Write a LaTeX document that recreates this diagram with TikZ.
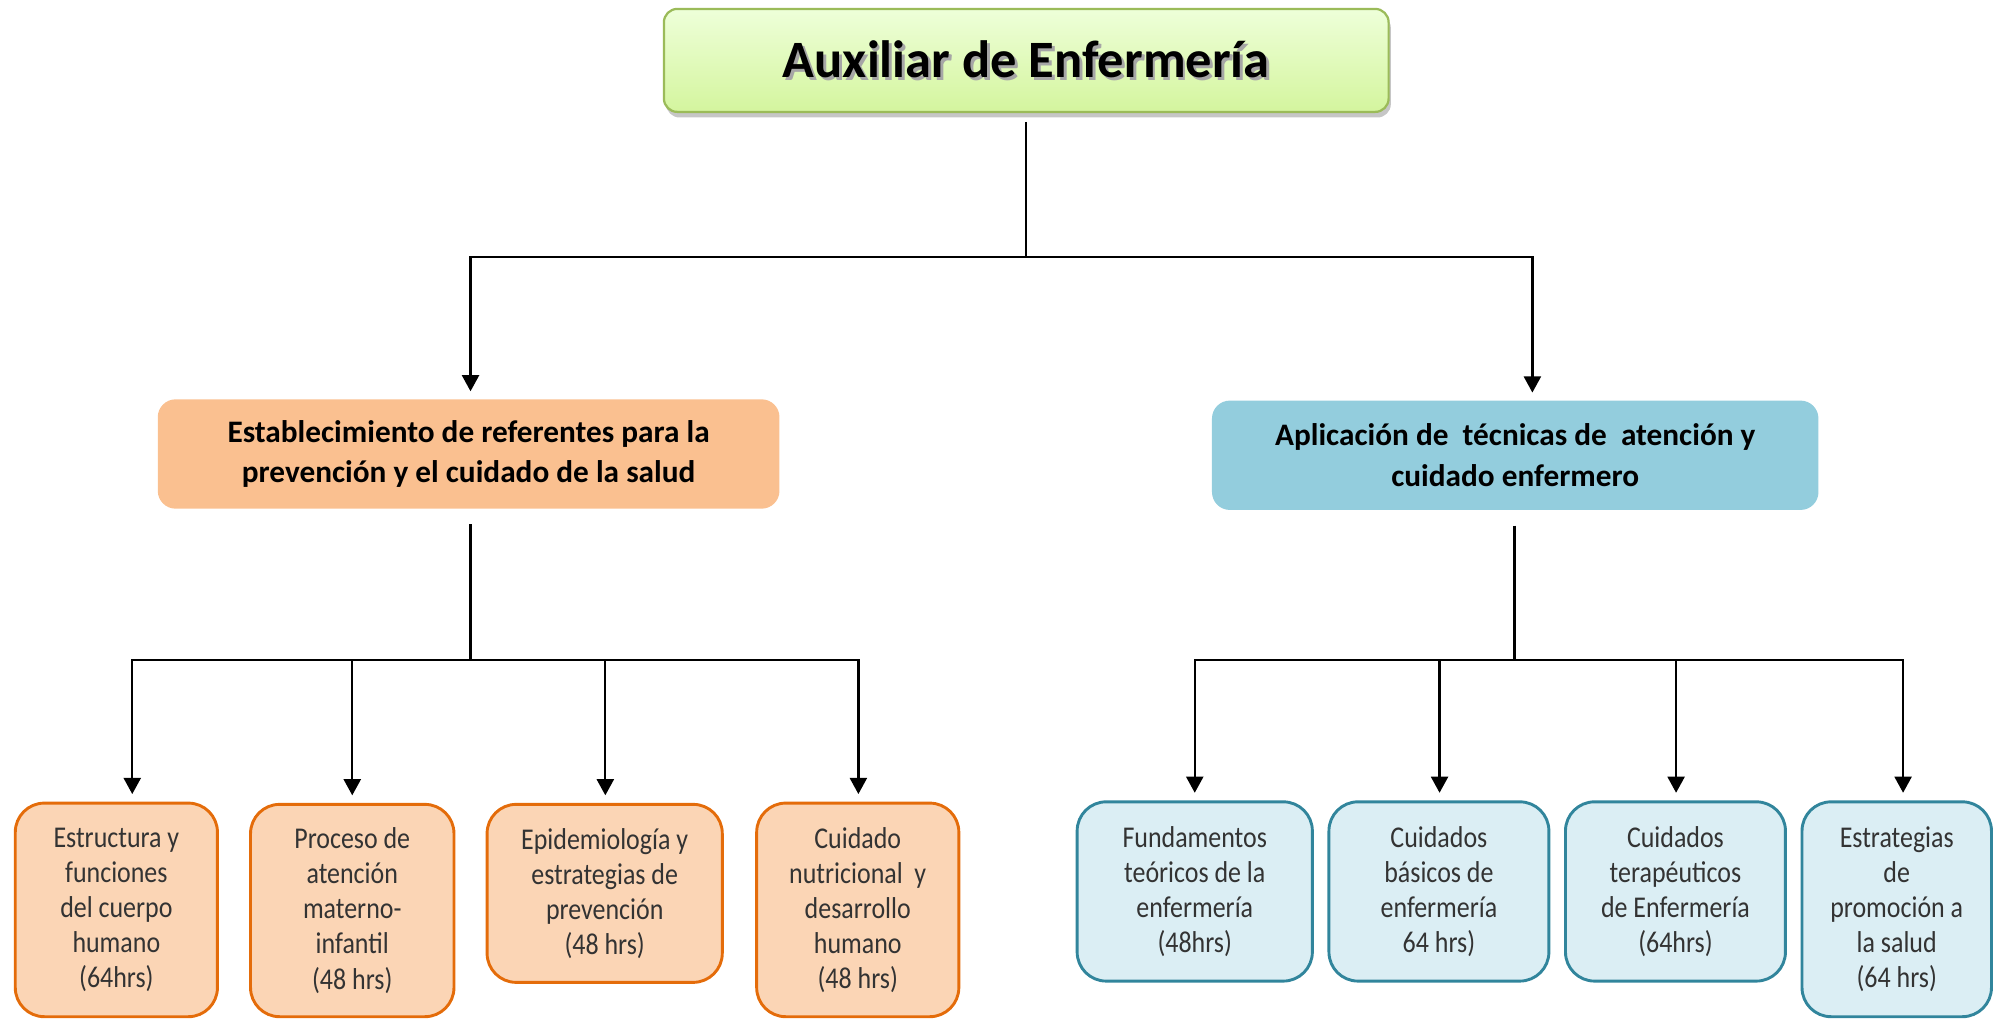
\documentclass[tikz,border=0pt]{standalone}
\usepackage{fontspec}
\setmainfont{Carlito}
\newfontfamily\delgada[FakeStretch=0.86]{Carlito}
\usetikzlibrary{shadows,arrows.meta,calc}
\definecolor{verdeclaro}{HTML}{EEFFD9}
\definecolor{verdemedio}{HTML}{D4F59E}
\definecolor{verdeborde}{HTML}{9BBB59}
\definecolor{naranja}{HTML}{FAC090}
\definecolor{naranjaclaro}{HTML}{FBD5B5}
\definecolor{naranjaborde}{HTML}{E46C0A}
\definecolor{azul}{HTML}{93CDDD}
\definecolor{azulclaro}{HTML}{DBEEF4}
\definecolor{azulborde}{HTML}{31859C}
\newcommand{\sombra}[1]{\makebox[0pt][l]{\hspace{1.3pt}\raisebox{-1.3pt}{\color{black!35}#1}}#1}
\tikzset{
every node/.style=
    {rectangle,
    align=center,
    inner sep=0pt
    },
raiz/.style=
    {rounded corners=6pt,
    draw=verdeborde,
    line width=1pt,
    top color=verdeclaro,
    bottom color=verdemedio,
    drop shadow={shadow xshift=1pt,shadow yshift=-2.5pt,opacity=0.45},
    font=\fontsize{23.5}{28}\selectfont\bfseries,
    minimum width=11.4cm,
    minimum height=1.62cm
    },
rama/.style=
    {rounded corners=8pt,
    font=\fontsize{14}{18.1}\selectfont\bfseries,
    minimum height=1.72cm
    },
hoja/.style=
    {rounded corners=13pt,
    line width=1.3pt,
    text=black!80,
    font=\delgada\fontsize{13.5}{15.7}\selectfont
    },
hojaN/.style={hoja,draw=naranjaborde,fill=naranjaclaro},
hojaA/.style={hoja,draw=azulborde,fill=azulclaro},
linea/.style={line width=1pt},
flecha/.style=
    {linea,
    -{Triangle[width=7.6pt,length=7.2pt]},
    shorten >=3.4pt
    }}

\begin{document}
\begin{tikzpicture}[x=0.02cm,y=-0.02cm]
\useasboundingbox (0,0) rectangle (1568,801);

\node[raiz] (auxiliar) at (807,47.5) {\sombra{Auxiliar de Enfermería}};

\node[rama,fill=naranja,minimum width=9.78cm] (prevencion) at (368.5,357)
    {Establecimiento de referentes para la\\prevención y el cuidado de la salud};
\node[rama,fill=azul,minimum width=9.54cm] (tecnicas) at (1191.5,358)
    {Aplicación de\ \ técnicas de\ \ atención y\\cuidado enfermero};

\node[hojaN,minimum width=3.18cm,minimum height=3.36cm] (estructura) at (91.5,715.5)
    {Estructura y\\funciones\\del cuerpo\\humano\\(64hrs)};
\node[hojaN,minimum width=3.2cm,minimum height=3.34cm] (materno) at (277,716)
    {Proceso de\\atención\\materno-\\infantil\\(48 hrs)};
\node[hojaN,minimum width=3.7cm,minimum height=2.8cm] (epidemio) at (475.5,702.5)
    {Epidemiología y\\estrategias de\\prevención\\(48 hrs)};
\node[hojaN,minimum width=3.18cm,minimum height=3.36cm] (nutricion) at (674.5,715.5)
    {Cuidado\\nutricional\ \ y\\desarrollo\\humano\\(48 hrs)};

\node[hojaA,minimum width=3.7cm,minimum height=2.82cm] (fundamentos) at (939.5,701)
    {Fundamentos\\teóricos de la\\enfermería\\(48hrs)};
\node[hojaA,minimum width=3.46cm,minimum height=2.82cm] (basicos) at (1131.5,701)
    {Cuidados\\básicos de\\enfermería\\64 hrs)};
\node[hojaA,minimum width=3.46cm,minimum height=2.82cm] (terapeuticos) at (1317.5,701)
    {Cuidados\\terapéuticos\\de Enfermería\\(64hrs)};
\node[hojaA,minimum width=2.98cm,minimum height=3.38cm] (promocion) at (1491.5,715)
    {Estrategias\\de\\promoción a\\la salud\\(64 hrs)};

\coordinate (nudo) at (807,202);
\coordinate (nudoN) at (370,519);
\coordinate (nudoA) at (1191,519);

\draw[linea,shorten <=4pt] (auxiliar.south -| nudo) -- (nudo);
\draw[flecha] (nudo) -| ($(prevencion.north)+(1.5,0)$);
\draw[flecha] (nudo) -| ($(tecnicas.north)+(13.5,0)$);

\draw[linea,shorten <=6.8pt] (prevencion.south -| nudoN) -- (nudoN);
\foreach \hijo/\dx in {estructura/12.5,materno/0,epidemio/0.5,nutricion/0.5}
    \draw[flecha] (nudoN) -| ($(\hijo.north)+(\dx,0)$);

\draw[linea,shorten <=6.8pt] (tecnicas.south -| nudoA) -- (nudoA);
\foreach \hijo/\dx in {fundamentos/0,basicos/0.5,terapeuticos/0.5,promocion/5}
    \draw[flecha] (nudoA) -| ($(\hijo.north)+(\dx,0)$);

\end{tikzpicture}
\end{document}
